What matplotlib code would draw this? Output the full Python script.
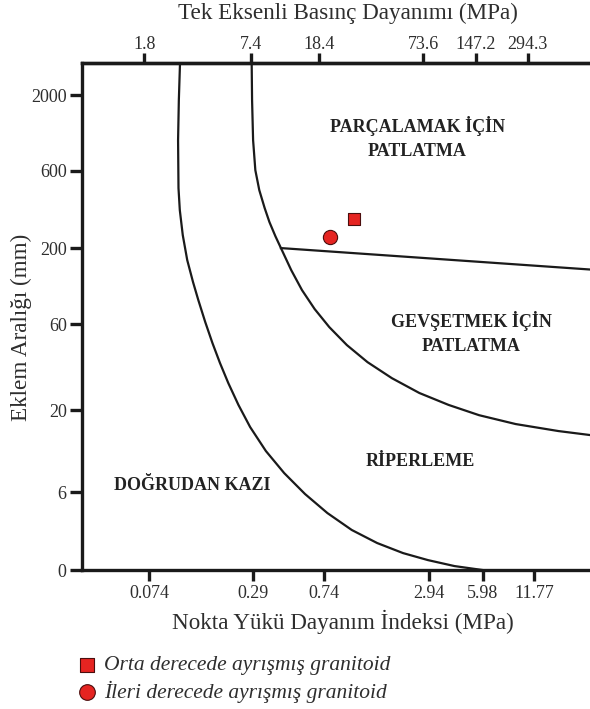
import matplotlib
matplotlib.use("Agg")
import matplotlib.pyplot as plt

plt.rcParams['font.family'] = ['Liberation Serif', 'DejaVu Serif']

# %%
# bottom axis: point load index (MPa)
is_ticks = [0.074, 0.29, 0.74, 2.94, 5.98, 11.77]
is_labels = ["0.074", "0.29", "0.74", "2.94", "5.98", "11.77"]
# top axis: uniaxial compressive strength (MPa)
ucs_ticks = [1.8, 7.4, 18.4, 73.6, 147.2, 294.3]
ucs_labels = ["1.8", "7.4", "18.4", "73.6", "147.2", "294.3"]

# y axis: joint spacing (mm). the original scale is hand drawn, so the
# tick positions are the ones ("0" is the bottom edge)
spacing_ticks = [1.92, 6, 19.95, 70.2, 213, 663, 2000]
spacing_labels = ["0", "6", "20", "60", "200", "600", "2000"]

# boundary: direct digging / ripping
dig_is = [0.1112, 0.1095, 0.1084, 0.1090, 0.1109, 0.1153, 0.1223, 0.1320, 0.1415, 0.1550,
          0.1705, 0.1882, 0.2100, 0.2400, 0.2800, 0.3445, 0.4384, 0.5766, 0.7741, 1.067,
          1.491, 2.097, 2.911, 4.123, 5.98]
dig_sp = [3194, 1858, 1035, 513, 372, 258, 178.9, 129.7, 99.7, 72.3,
          53.1, 39.7, 29.6, 21.5, 15.55, 10.95, 7.93, 5.84, 4.42, 3.45,
          2.85, 2.46, 2.22, 2.035, 1.92]

# boundary: ripping / blasting
rip_is = [0.2857, 0.2872, 0.2911, 0.2998, 0.3158, 0.3390, 0.3610, 0.3903, 0.4200, 0.4808,
          0.5540, 0.6548, 0.7940, 1.0007, 1.313, 1.810, 2.598, 3.819, 5.706, 9.237,
          16.20, 27.37]
rip_sp = [3194, 1858, 1035, 667, 498, 383, 312, 254, 213.3, 154.6,
          115.4, 87.4, 67.1, 51.6, 40.2, 31.8, 25.6, 21.5, 18.5, 16.25,
          14.67, 13.63]

# boundary: loosening / fragmenting blasting
blast_is = [0.4200, 27.37]
blast_sp = [213.3, 154.6]

# samples
orta_is, orta_sp = [1.103], [326]
ileri_is, ileri_sp = [0.8003], [252]

# %%
fig = plt.figure(figsize=(5.9, 7.09), dpi=100)
ax = fig.add_axes([0.139, 0.196, 0.875, 0.715])

ax.set_xscale("log")
ax.set_yscale("log")
ax.set_xlim(0.0306, 27.4)
ax.set_ylim(1.92, 3194)

ink = "#1a1a1a"
txt = "#2e2e2e"
lw = 1.6
ax.plot(dig_is, dig_sp, color=ink, lw=lw, solid_joinstyle="round")
ax.plot(rip_is, rip_sp, color=ink, lw=lw, solid_joinstyle="round")
ax.plot(blast_is, blast_sp, color=ink, lw=lw)

sq = ax.scatter(orta_is, orta_sp, marker="s", s=80, color="#e52421", edgecolor="#4a0e0e", lw=0.8, zorder=5)
ci = ax.scatter(ileri_is, ileri_sp, marker="o", s=105, color="#e52421", edgecolor="#4a0e0e", lw=0.8, zorder=5)

# region names
bold = dict(fontsize=13, fontweight="bold", color="#222222", ha="center", va="center", linespacing=1.55)
ax.text(2.53, 1066, "PARÇALAMAK İÇİN\nPATLATMA", **bold)
ax.text(5.14, 61.9, "GEVŞETMEK İÇİN\nPATLATMA", **bold)
ax.text(2.63, 9.46, "RİPERLEME", **bold)
ax.text(0.130, 6.65, "DOĞRUDAN KAZI", **bold)

# axes styling
for s in ["left", "bottom", "top"]:
    ax.spines[s].set_linewidth(2.4)
    ax.spines[s].set_color(ink)
ax.spines["right"].set_visible(False)

ax.minorticks_off()
ax.set_xticks(is_ticks)
ax.set_xticklabels(is_labels)
ax.set_yticks(spacing_ticks)
ax.set_yticklabels(spacing_labels)
ax.tick_params(axis="x", direction="out", length=8, width=2.4, labelsize=13, color=ink, labelcolor=txt, pad=3)
ax.tick_params(axis="y", direction="out", length=9, width=2.4, labelsize=13, color=ink, labelcolor=txt, pad=2)

top = ax.twiny()
top.set_xscale("log")
top.set_xlim(0.789, 750)
top.minorticks_off()
top.set_xticks(ucs_ticks)
top.set_xticklabels(ucs_labels)
top.tick_params(direction="out", length=7, width=2.4, labelsize=13, color=ink, labelcolor=txt, pad=0.5)
for s in ["left", "bottom", "right"]:
    top.spines[s].set_visible(False)
top.spines["top"].set_linewidth(2.4)
top.spines["top"].set_color(ink)

top.set_xlabel("Tek Eksenli Basınç Dayanımı (MPa)", fontsize=16.7, color=txt, va="center")
top.xaxis.set_label_coords(0.5155, 1.0986)
ax.set_xlabel("Nokta Yükü Dayanım İndeksi (MPa)", fontsize=16.7, color=txt, va="center")
ax.xaxis.set_label_coords(0.505, -0.1026)
ax.set_ylabel("Eklem Aralığı (mm)", fontsize=16.7, color=txt, va="center")
ax.yaxis.set_label_coords(-0.118, 0.479)

fig.legend([sq, ci], ["Orta derecede ayrışmış granitoid", "İleri derecede ayrışmış granitoid"],
           loc="upper left", bbox_to_anchor=(0.114, 0.088), frameon=False,
           prop=dict(family="Liberation Serif", style="italic", size=15.5),
           handletextpad=0.3, labelspacing=0.25, borderaxespad=0, handlelength=1.0,
           markerscale=1.1, labelcolor=txt)

fig.savefig("out.png", dpi=100)
